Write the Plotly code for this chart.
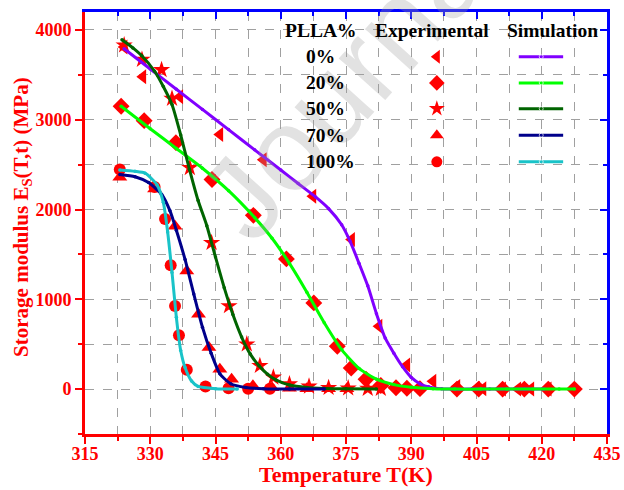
import plotly.graph_objects as go

# ---------------- data ----------------
series_names = ["0%", "20%", "50%", "70%", "100%"]

# Experimental (red symbols)
T_exp_0 = [324, 328.3, 336.8, 346, 356, 367.4, 376.3, 382.6, 389, 395, 400.5, 405, 406.5, 411, 414.5, 417.5, 421.5]
E_exp_0 = [3810, 3480, 3255, 2835, 2555, 2148, 1667, 700, 268, 88, 30, 10, 5, 0, 0, 0, 0]

T_exp_20 = [323.3, 328.6, 335.9, 344.2, 353.7, 361.3, 367.6, 373.0, 376.2, 379.6, 383.0, 386.5, 389, 392, 400.5, 405.5, 411, 416, 421.5, 427.5]
E_exp_20 = [3150, 2990, 2745, 2335, 1935, 1450, 960, 478, 235, 110, 40, 15, 10, 5, 0, 0, 0, 0, 0, 0]

T_exp_50 = [324, 328.1, 332.6, 335, 339.1, 344.1, 348.1, 352.2, 355.2, 358.3, 362, 366.5, 371, 375.5, 380, 383]
E_exp_50 = [3830, 3670, 3556, 3235, 2465, 1630, 926, 500, 260, 130, 56, 30, 15, 10, 5, 5]

T_exp_70 = [323, 331, 335.7, 338.4, 341.1, 343.5, 346, 348.7, 353.6, 358, 362, 366, 371, 375.2]
E_exp_70 = [2360, 2230, 1815, 1315, 833, 463, 222, 111, 37, 15, 10, 5, 5, 5]

T_exp_100 = [323, 331, 333.4, 334.7, 335.7, 336.6, 338.4, 342.7, 348, 352.5, 357.5]
E_exp_100 = [2445, 2250, 1895, 1380, 925, 600, 215, 30, 10, 5, 5]

# Simulation (coloured lines)
T_sim_0 = [324, 330, 336, 342, 348, 354, 360, 364, 368, 371, 374, 376, 378, 380, 382, 384, 386, 388, 390, 392, 394, 397, 400, 404, 408, 412, 416, 420.5]
E_sim_0 = [3790, 3565, 3340, 3115, 2890, 2665, 2440, 2290, 2140, 2010, 1830, 1640, 1400, 1150, 840, 570, 400, 250, 130, 60, 25, 5, 0, 0, 0, 0, 0, 0]

T_sim_20 = [323.3, 330, 336, 342, 348, 354, 358, 362, 366, 370, 374, 378, 382, 386, 390, 395, 400, 406, 412, 418, 424, 427.5]
E_sim_20 = [3150, 2900, 2680, 2460, 2210, 1910, 1680, 1400, 1080, 740, 440, 230, 110, 50, 20, 5, 0, 0, 0, 0, 0, 0]

T_sim_50 = [323.5, 326, 328, 331, 333, 335, 337, 339, 341, 343, 345, 347, 349, 351, 353, 355, 357, 359, 362, 366, 370, 375, 382]
E_sim_50 = [3890, 3800, 3715, 3540, 3370, 3170, 2830, 2450, 2100, 1820, 1470, 1130, 830, 580, 390, 260, 165, 100, 45, 18, 8, 3, 0]

T_sim_70 = [323, 326.5, 329.6, 332.6, 334.5, 336, 338, 340, 342, 344, 346, 348.5, 352, 356, 362, 370]
E_sim_70 = [2390, 2365, 2300, 2170, 1990, 1770, 1444, 1060, 690, 400, 170, 60, 18, 5, 0, 0]

T_sim_100 = [323, 326.5, 328.8, 331.5, 333, 334, 335, 336, 337, 338, 339.5, 341, 345, 350]
E_sim_100 = [2440, 2425, 2405, 2280, 2080, 1750, 1300, 800, 430, 240, 90, 30, 5, 0]

exp_T = [T_exp_0, T_exp_20, T_exp_50, T_exp_70, T_exp_100]
exp_E = [E_exp_0, E_exp_20, E_exp_50, E_exp_70, E_exp_100]
sim_T = [T_sim_0, T_sim_20, T_sim_50, T_sim_70, T_sim_100]
sim_E = [E_sim_0, E_sim_20, E_sim_50, E_sim_70, E_sim_100]

# ---------------- styles ----------------
symbols = ["triangle-left", "diamond", "star", "triangle-up", "circle"]
sym_sizes = [13, 13, 13, 13, 12]
line_colors = ["#8000FF", "#00FF00", "#006400", "#00008B", "#19C3C8"]
RED = "#FF0000"
BLUE = "#0000FF"
FONT = "Liberation Serif"

fig = go.Figure()

# experimental markers (below lines)
for i in range(5):
    fig.add_trace(go.Scatter(
        x=exp_T[i], y=exp_E[i], mode="markers", showlegend=False,
        marker=dict(symbol=symbols[i], size=sym_sizes[i], color=RED,
                    line=dict(width=0)),
    ))

# simulation lines
for i in range(5):
    fig.add_trace(go.Scatter(
        x=sim_T[i], y=sim_E[i], mode="lines+markers", showlegend=False,
        line=dict(color=line_colors[i], width=3, shape="spline", smoothing=0.6),
        marker=dict(size=3.5, color=line_colors[i]),
    ))

# ---------------- custom table legend (hidden unit axes) ----------------
row_y = [0.894, 0.832, 0.771, 0.708, 0.645]
for i in range(5):
    fig.add_trace(go.Scatter(
        x=[0.674], y=[row_y[i]], xaxis="x3", yaxis="y3", mode="markers",
        showlegend=False,
        marker=dict(symbol=symbols[i], size=12 if i != 4 else 11, color=RED, line=dict(width=0)),
    ))
    fig.add_trace(go.Scatter(
        x=[0.831, 0.874, 0.916], y=[row_y[i]] * 3, xaxis="x3", yaxis="y3",
        mode="lines+markers", showlegend=False,
        line=dict(color=line_colors[i], width=3),
        marker=dict(size=[0, 4, 0], color=line_colors[i]),
    ))

# invisible trace to activate the top/right axes
fig.add_trace(go.Scatter(x=[None], y=[None], xaxis="x2", yaxis="y2", showlegend=False))

annotations = []

# faint watermark (drawn first)
annotations.append(dict(x=0.511, y=0.848, xref="paper", yref="paper", text="Journal",
                        showarrow=False, textangle=-48,
                        font=dict(family="Liberation Sans", size=118, color="rgba(160,160,160,0.3)"),
                        xanchor="center", yanchor="middle"))

hdr_font = dict(family=FONT, size=19.5, color="black", weight="bold")
annotations.append(dict(x=0.452, y=0.957, xref="paper", yref="paper", text="PLLA%",
                        showarrow=False, font=hdr_font, xanchor="center", yanchor="middle"))
annotations.append(dict(x=0.665, y=0.957, xref="paper", yref="paper", text="Experimental",
                        showarrow=False, font=hdr_font, xanchor="center", yanchor="middle"))
annotations.append(dict(x=0.895, y=0.957, xref="paper", yref="paper", text="Simulation",
                        showarrow=False, font=hdr_font, xanchor="center", yanchor="middle"))
for i in range(5):
    annotations.append(dict(x=0.419, y=row_y[i], xref="paper", yref="paper", text=series_names[i],
                            showarrow=False, font=hdr_font, xanchor="left", yanchor="middle"))

# axis titles
annotations.append(dict(x=0.5, y=-0.097, xref="paper", yref="paper", text="Temperature T(K)",
                        showarrow=False, xanchor="center", yanchor="middle",
                        font=dict(family=FONT, size=22, color=RED, weight="bold")))
annotations.append(dict(x=-0.121, y=0.514, xref="paper", yref="paper",
                        text="Storage modulus E<sub>S</sub>(T,t) (MPa)", textangle=-90,
                        showarrow=False, xanchor="center", yanchor="middle",
                        font=dict(family=FONT, size=21, color=RED, weight="bold")))

grid_kw = dict(gridcolor="#A0A0A0", griddash="dash", gridwidth=1)

fig.update_layout(
    width=624, height=490, autosize=False,
    margin=dict(l=85, r=17, t=12, b=56),
    paper_bgcolor="white", plot_bgcolor="white",
    showlegend=False,
    annotations=annotations,
    xaxis=dict(
        range=[315, 435], tick0=315, dtick=15, showline=True, linecolor=RED, linewidth=3,
        ticks="outside", ticklen=7, tickwidth=2, tickcolor=RED, automargin=False,
        ticklabelstandoff=-6,
        tickfont=dict(family=FONT, size=18, color=RED, weight="bold"),
        showgrid=True, **grid_kw, zeroline=False,
        minor=dict(dtick=7.5, tick0=315, ticks="outside", ticklen=4, tickwidth=2, tickcolor=RED,
                   showgrid=True, gridcolor="#A0A0A0", griddash="dash", gridwidth=1),
    ),
    yaxis=dict(
        range=[-500, 4200], tick0=0, dtick=1000, showline=True, linecolor=RED, linewidth=3,
        ticks="outside", ticklen=7, tickwidth=2, tickcolor=RED, automargin=False,
        tickfont=dict(family=FONT, size=18, color=RED, weight="bold"),
        showgrid=True, **grid_kw, zeroline=False,
        minor=dict(dtick=500, tick0=0, ticks="outside", ticklen=4, tickwidth=2, tickcolor=RED,
                   showgrid=True, gridcolor="#A0A0A0", griddash="dash", gridwidth=1),
    ),
    xaxis2=dict(
        range=[315, 435], tick0=315, dtick=15, overlaying="x", anchor="y", side="top",
        showline=True, linecolor=BLUE, linewidth=3, ticks="inside", ticklen=7, tickwidth=2,
        tickcolor=BLUE, showticklabels=False, showgrid=False, zeroline=False, automargin=False,
        minor=dict(dtick=7.5, tick0=315, ticks="inside", ticklen=4, tickwidth=2, tickcolor=BLUE),
    ),
    yaxis2=dict(
        range=[-500, 4200], tick0=0, dtick=1000, overlaying="y", anchor="x", side="right",
        showline=True, linecolor=BLUE, linewidth=3, ticks="inside", ticklen=7, tickwidth=2,
        tickcolor=BLUE, showticklabels=False, showgrid=False, zeroline=False, automargin=False,
        minor=dict(dtick=500, tick0=0, ticks="inside", ticklen=4, tickwidth=2, tickcolor=BLUE),
    ),
    xaxis3=dict(range=[0, 1], overlaying="x", anchor="y3", visible=False, fixedrange=True),
    yaxis3=dict(range=[0, 1], overlaying="y", anchor="x3", visible=False, fixedrange=True),
)

fig.write_html(
    "out.html",
    config={"displayModeBar": False},
    post_script="document.body.style.margin='0px';document.body.style.padding='0px';"
                "document.body.style.overflow='hidden';",
)
